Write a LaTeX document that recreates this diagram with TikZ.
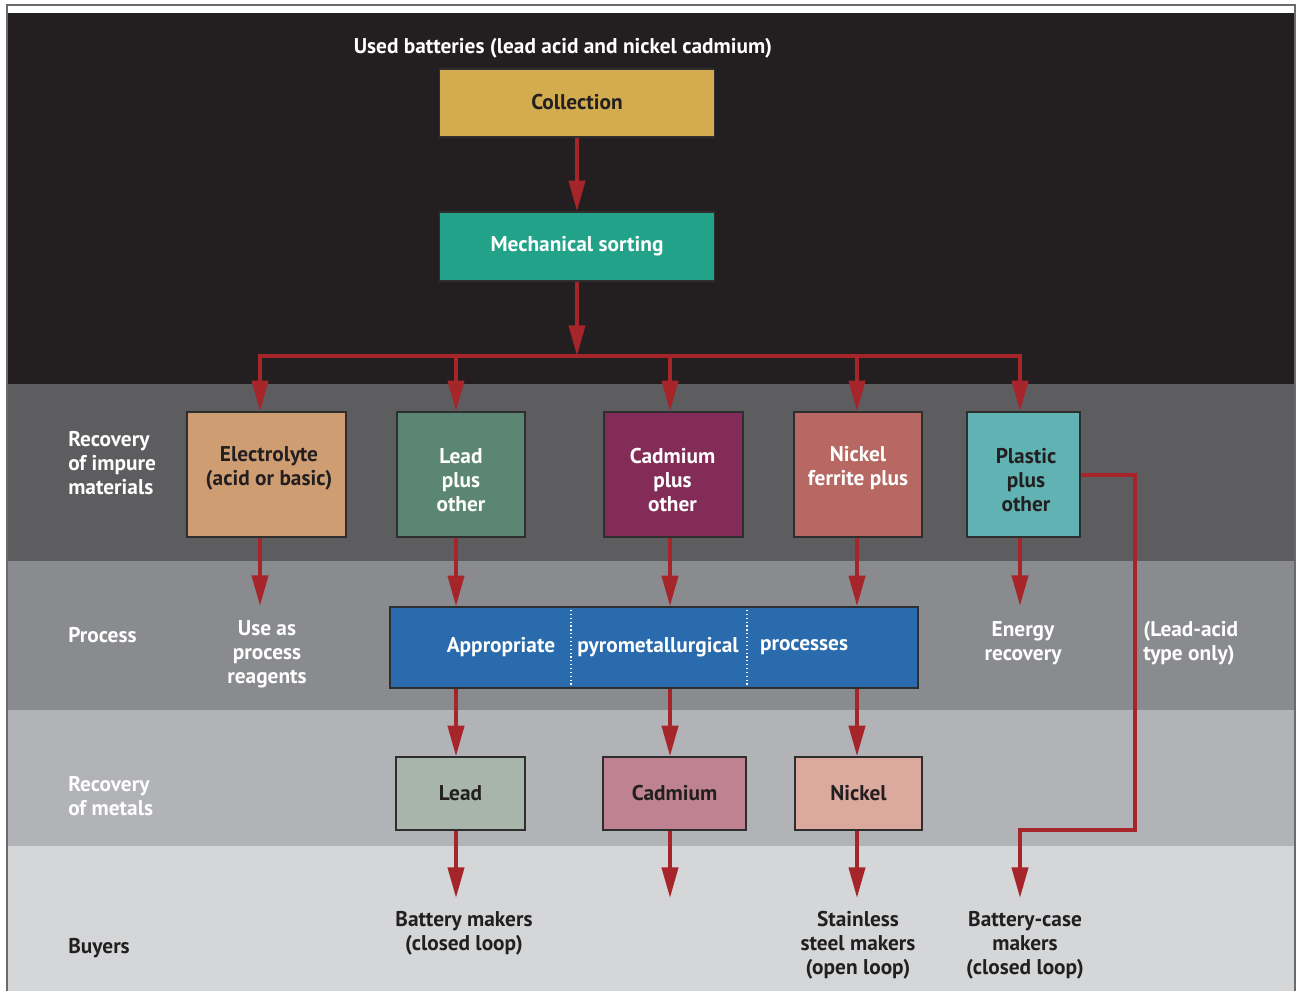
\documentclass[tikz,border=0pt]{standalone}
\usepackage{fontspec}
\setmainfont{PT Sans}
\usetikzlibrary{arrows.meta}
\definecolor{bandA}{HTML}{231F20}
\definecolor{bandB}{HTML}{5D5D5F}
\definecolor{bandC}{HTML}{8A8B8E}
\definecolor{bandD}{HTML}{B2B3B6}
\definecolor{bandE}{HTML}{D5D6D8}
\definecolor{collc}{HTML}{D3AC4F}
\definecolor{mechc}{HTML}{22A389}
\definecolor{elecc}{HTML}{CF9D72}
\definecolor{leadpc}{HTML}{5C8674}
\definecolor{cadpc}{HTML}{842C58}
\definecolor{nickpc}{HTML}{B86862}
\definecolor{plastpc}{HTML}{60B2B3}
\definecolor{procc}{HTML}{2A6BAD}
\definecolor{leadc}{HTML}{A8B5AA}
\definecolor{cadc}{HTML}{BE8290}
\definecolor{nickc}{HTML}{DCA99E}
\definecolor{arrred}{HTML}{A6252B}
\definecolor{txtdark}{HTML}{231F20}
\definecolor{boxline}{HTML}{2E2E2E}
\definecolor{framec}{HTML}{6A6A6A}
\begin{document}
\begin{tikzpicture}[x=0.75pt,y=-0.75pt,
  font=\fontsize{16}{18}\selectfont\bfseries,
  box/.style={draw=boxline, line width=0.9pt, inner sep=0pt, align=center, text=txtdark},
  wtxt/.style={text=white, align=center, inner sep=0pt},
  dtxt/.style={text=txtdark, align=center, inner sep=0pt},
  rowlab/.style={anchor=west, align=left, inner sep=0pt},
  ln/.style={draw=arrred, line width=3pt, line join=miter},
  arr/.style={ln, -{Triangle[width=12pt,length=23pt]}}]
\useasboundingbox (0,0) rectangle (1298,991);
\fill[white] (0,0) rectangle (1298,991);
% bands
\fill[bandA] (8,13) rectangle (1294,384);
\fill[bandB] (8,384) rectangle (1294,561);
\fill[bandC] (8,561) rectangle (1294,710);
\fill[bandD] (8,710) rectangle (1294,846);
\fill[bandE] (8,846) rectangle (1294,991);
\draw[framec, line width=0.9pt] (7,995) -- (7,5) -- (1295,5) -- (1295,995);

% title
\node[wtxt] (title) at (563,48) {Used batteries (lead acid and nickel cadmium)};

% top boxes
\node[box, fill=collc, minimum width=275*0.75pt, minimum height=68*0.75pt] (coll) at (577,103) {};
\node[dtxt] (collt) at (577,102) {Collection};
\node[box, fill=mechc, text=white, minimum width=275*0.75pt, minimum height=69*0.75pt] (mech) at (577,246.5) {Mechanical sorting};

% column coordinates
\coordinate (b) at (577,356);
\coordinate (b1) at (260,356);
\coordinate (b2) at (456,356);
\coordinate (b3) at (670,356);
\coordinate (b4) at (857,356);
\coordinate (b5) at (1020,356);

% row 2 boxes
\node[box, fill=elecc, minimum width=159*0.75pt, minimum height=125*0.75pt] (elec) at (266.5,474.5) {};
\node[box, fill=leadpc, minimum width=128*0.75pt, minimum height=125*0.75pt] (leadp) at (461,474.5) {};
\node[box, fill=cadpc, minimum width=139*0.75pt, minimum height=125*0.75pt] (cadp) at (673.5,474.5) {};
\node[box, fill=nickpc, minimum width=128*0.75pt, minimum height=125*0.75pt] (nickp) at (858,474.5) {};
\node[box, fill=plastpc, minimum width=113*0.75pt, minimum height=125*0.75pt] (plastp) at (1023.5,474.5) {};
\node[dtxt] (elect) at (269,468) {Electrolyte\\(acid or basic)};
\node[wtxt] (leadpt) at (461,480) {Lead\\plus\\other};
\node[wtxt] (cadpt) at (672.5,480) {Cadmium\\plus\\other};
\node[wtxt] (nickpt) at (858,468) {Nickel\\ferrite plus};
\node[dtxt] (plastpt) at (1026,480) {Plastic\\plus\\other};

% process row
\node[box, fill=procc, minimum width=528*0.75pt, minimum height=81*0.75pt] (proc) at (654,647.5) {};
\draw[white, line width=0.9pt, dotted] (571,610) -- (571,686);
\draw[white, line width=0.9pt, dotted] (747,610) -- (747,686);
\node[wtxt] (p1) at (501,647) {Appropriate};
\node[wtxt] (p2) at (658,647) {pyrometallurgical};
\node[wtxt] (p3) at (804,647) {processes};
\node[wtxt] (use) at (267,654) {Use as\\process\\reagents};
\node[wtxt] (energy) at (1023,643) {Energy\\recovery};
\node[wtxt, align=left, anchor=west] (leadacid) at (1143,643) {(Lead-acid\\type only)};

% row 4 boxes
\node[box, fill=leadc, minimum width=129*0.75pt, minimum height=73*0.75pt] (lead) at (460.5,793.5) {Lead};
\node[box, fill=cadc, minimum width=143*0.75pt, minimum height=73*0.75pt] (cad) at (674.5,793.5) {Cadmium};
\node[box, fill=nickc, minimum width=127*0.75pt, minimum height=73*0.75pt] (nick) at (858.5,793.5) {Nickel};

% buyers
\node[dtxt] (bm) at (464,933) {Battery makers\\(closed loop)};
\node[dtxt] (ss) at (858,945) {Stainless\\steel makers\\(open loop)};
\node[dtxt] (bc) at (1025,945) {Battery-case\\makers\\(closed loop)};

% row labels
\node[rowlab, text=white] (l1) at (68,463) {Recovery\\of impure\\materials};
\node[rowlab, text=white] (l2) at (68,635) {Process};
\node[rowlab, text=white] (l3) at (68,796) {Recovery\\of metals};
\node[rowlab, text=txtdark] (l4) at (68,948) {Buyers};

% end coordinates
\coordinate (u1) at (260,606);
\coordinate (u5) at (1020,606);
\coordinate (e2) at (456,898);
\coordinate (e3) at (670,898);
\coordinate (e4) at (857,898);
\coordinate (e5) at (1020,898);
\coordinate (r1) at (1135,830);

% connectors
\draw[arr] (coll) -- (mech);
\draw[arr] (mech) -- (b);
\draw[ln, line cap=butt] ([xshift=-1.5pt]b1) -- ([xshift=1.5pt]b5);
\draw[arr] (b1) -- (b1 |- elec.north);
\draw[arr] (b2) -- (b2 |- leadp.north);
\draw[arr] (b3) -- (b3 |- cadp.north);
\draw[arr] (b4) -- (b4 |- nickp.north);
\draw[arr] (b5) -- (b5 |- plastp.north);

\draw[arr] (elec.south -| u1) -- (u1);
\draw[arr] (leadp.south -| b2) -- (proc.north -| b2);
\draw[arr] (cadp.south -| b3) -- (proc.north -| b3);
\draw[arr] (nickp.south -| b4) -- (proc.north -| b4);
\draw[arr] (plastp.south -| u5) -- (u5);

\draw[arr] (proc.south -| b2) -- (lead.north -| b2);
\draw[arr] (proc.south -| b3) -- (cad.north -| b3);
\draw[arr] (proc.south -| b4) -- (nick.north -| b4);

\draw[arr] (lead.south -| e2) -- (e2);
\draw[arr] (cad.south -| e3) -- (e3);
\draw[arr] (nick.south -| e4) -- (e4);

\draw[arr] (plastp.east) -| (r1) -| (e5);
\end{tikzpicture}
\end{document}
